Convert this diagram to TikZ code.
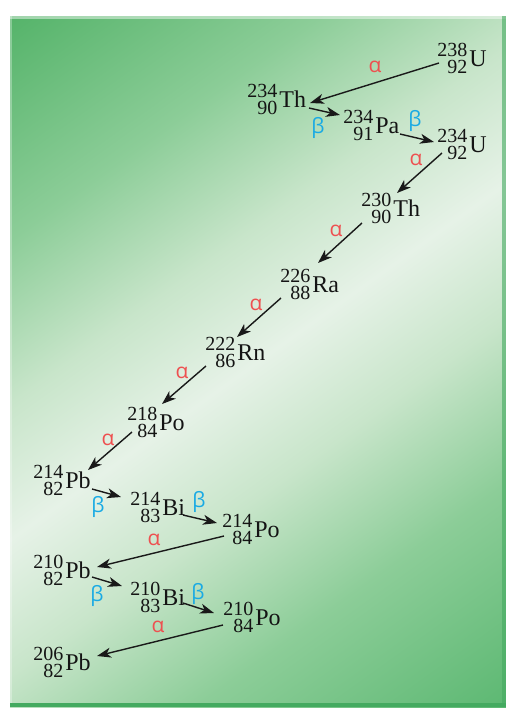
\documentclass[tikz,border=0pt]{standalone}
\usepackage{fontspec}
\newfontfamily\grk{Open Sans}
\newfontfamily\serf{Liberation Serif}
\usetikzlibrary{arrows.meta,calc}
\definecolor{gA}{RGB}{84,179,105}
\definecolor{gB}{RGB}{140,205,152}
\definecolor{gC}{RGB}{200,229,202}
\definecolor{gD}{RGB}{230,242,231}
\definecolor{gE}{RGB}{92,184,114}
\definecolor{gEdge}{RGB}{68,170,96}
\definecolor{alphared}{RGB}{238,80,80}
\definecolor{betablue}{RGB}{25,170,228}
\pgfdeclareverticalshading{bgshade}{100bp}{color(0bp)=(gE); color(15bp)=(gE); color(30bp)=(gB); color(41bp)=(gC); color(50bp)=(gD); color(59bp)=(gC); color(70bp)=(gB); color(85bp)=(gA); color(100bp)=(gA)}
\newcommand\numf{\serf\fontsize{10}{12}\selectfont}
\newcommand\elf{\serf\fontsize{12}{14}\selectfont}
\newcommand\iso[3]{\setbox0=\hbox{\numf #1}\setbox2=\hbox{\numf #2}\raisebox{4.8pt}{\copy0}\llap{\raisebox{-3.9pt}{\box2}}\kern1pt{\elf #3}}
\tikzset{
  isonode/.style={inner sep=0pt, anchor=base west, text=black!92},
  alab/.style={text=alphared, font=\grk\fontsize{10.5}{12}\selectfont, inner sep=0pt},
  blab/.style={text=betablue, font=\grk\fontsize{10.5}{12}\selectfont, inner sep=0pt},
  decay/.style={-{Stealth[length=7pt,width=5pt,inset=2pt]}, line width=0.7pt, draw=black!90}
}
\begin{document}
\begin{tikzpicture}[x=0.5pt,y=-0.5pt]
\useasboundingbox (0,0) rectangle (506,713);
\fill[white] (0,0) rectangle (506,713);
\shade[shading=bgshade, shading angle=35.7] (10,16) rectangle (506,707);
\fill[white, opacity=0.45] (10,16) rectangle (506,18.5);
\fill[white, opacity=0.3] (10,16) rectangle (12,707);
\fill[gEdge] (10,703) rectangle (506,707);
\fill[gEdge, opacity=0.6] (502,16) rectangle (506,707);

\node[isonode] (U238) at (437,66) {\iso{238}{92}{U}};
\node[isonode] (Th234) at (247,107) {\iso{234}{90}{Th}};
\node[isonode] (Pa234) at (343,133) {\iso{234}{91}{Pa}};
\node[isonode] (U234) at (437,152) {\iso{234}{92}{U}};
\node[isonode] (Th230) at (361,216) {\iso{230}{90}{Th}};
\node[isonode] (Ra226) at (280,292) {\iso{226}{88}{Ra}};
\node[isonode] (Rn222) at (205,360) {\iso{222}{86}{Rn}};
\node[isonode] (Po218) at (127,430) {\iso{218}{84}{Po}};
\node[isonode] (Pb214) at (33,488) {\iso{214}{82}{Pb}};
\node[isonode] (Bi214) at (130,515) {\iso{214}{83}{Bi}};
\node[isonode] (Po214) at (222,537) {\iso{214}{84}{Po}};
\node[isonode] (Pb210) at (33,578) {\iso{210}{82}{Pb}};
\node[isonode] (Bi210) at (130,605) {\iso{210}{83}{Bi}};
\node[isonode] (Po210) at (223,625) {\iso{210}{84}{Po}};
\node[isonode] (Pb206) at (33,670) {\iso{206}{82}{Pb}};

\draw[decay] ($(U238.base west)+(2,-3)$) -- ($(Th234.base west)+(63,-4)$);
\draw[decay] ($(Th234.base west)+(62,1)$) -- ($(Pa234.base west)+(-3,-18)$);
\draw[decay] ($(Pa234.base west)+(57,1)$) -- ($(U234.base west)+(-3,-10)$);
\draw[decay] ($(U234.base west)+(5,1)$) -- ($(Th230.base west)+(36,-23)$);
\draw[decay] ($(Th230.base west)+(1,7)$) -- ($(Ra226.base west)+(38,-29)$);
\draw[decay] ($(Ra226.base west)+(1,6)$) -- ($(Rn222.base west)+(32,-23)$);
\draw[decay] ($(Rn222.base west)+(1,6)$) -- ($(Po218.base west)+(35,-26)$);
\draw[decay] ($(Po218.base west)+(5,2)$) -- ($(Pb214.base west)+(55,-18)$);
\draw[decay] ($(Pb214.base west)+(59,1)$) -- ($(Bi214.base west)+(-9,-18)$);
\draw[decay] ($(Bi214.base west)+(53,0)$) -- ($(Po214.base west)+(-5,-14)$);
\draw[decay] ($(Po214.base west)+(2,-1)$) -- ($(Pb210.base west)+(64,-11)$);
\draw[decay] ($(Pb210.base west)+(59,-1)$) -- ($(Bi210.base west)+(-8,-19)$);
\draw[decay] ($(Bi210.base west)+(53,-2)$) -- ($(Po210.base west)+(-9,-12)$);
\draw[decay] ($(Po210.base west)+(0,0)$) -- ($(Pb206.base west)+(64,-14)$);

\node[alab] (al1) at (375,67) {α};
\node[blab] (be1) at (318,128) {β};
\node[blab] (be2) at (415,121) {β};
\node[alab] (al2) at (416,160) {α};
\node[alab] (al3) at (336,231) {α};
\node[alab] (al4) at (256,305) {α};
\node[alab] (al5) at (182,373) {α};
\node[alab] (al6) at (108,440) {α};
\node[blab] (be3) at (98,507) {β};
\node[blab] (be4) at (199,502) {β};
\node[alab] (al7) at (154,540) {α};
\node[blab] (be5) at (97,596) {β};
\node[blab] (be6) at (198,594) {β};
\node[alab] (al8) at (158,627) {α};
\end{tikzpicture}
\end{document}
